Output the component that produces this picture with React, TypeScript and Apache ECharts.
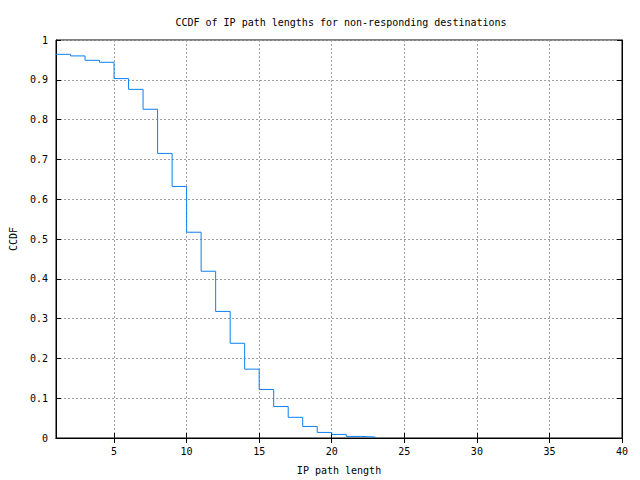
import React, { useEffect, useRef } from "react";
import * as echarts from "echarts";

const pathLengths = [1, 2, 3, 4, 5, 6, 7, 8, 9, 10, 11, 12, 13, 14, 15, 16, 17, 18, 19, 20, 21, 22, 23];
const ccdfValues = [0.964, 0.96, 0.949, 0.944, 0.903, 0.876, 0.826, 0.715, 0.632, 0.517, 0.419, 0.318, 0.238, 0.173, 0.122, 0.079, 0.052, 0.029, 0.014, 0.009, 0.004, 0.0025, 0.0005];
const xTickValues = [5, 10, 15, 20, 25, 30, 35, 40];

const FONT = "DejaVu Sans Mono";

export default function App() {
  const ref = useRef<HTMLDivElement>(null);
  useEffect(() => {
    if (!ref.current) return;
    const chart = echarts.init(ref.current, null, { renderer: "svg" });
    const grid = { color: "#a0a0a0", type: [2, 2] as number[], width: 1 };
    const yFmt = (v: number) => (v === 0 ? "0" : v === 1 ? "1" : v.toFixed(1));
    chart.setOption({
      animation: false,
      backgroundColor: "#fff",
      textStyle: { fontFamily: FONT },
      title: {
        text: "CCDF of IP path lengths for non-responding destinations",
        left: 336,
        textAlign: "center",
        top: 12,
        textStyle: { fontFamily: FONT, fontSize: 10, fontWeight: "normal", color: "#000" },
      },
      grid: { left: 51, right: 18, top: 40, bottom: 42, show: true, borderColor: "#000", borderWidth: 1 },
      xAxis: [
        {
          type: "value",
          min: 1,
          max: 40,
          name: "IP path length",
          nameLocation: "middle",
          nameGap: 27,
          nameTextStyle: { fontFamily: FONT, fontSize: 10, color: "#000" },
          axisLine: { show: true, lineStyle: { color: "#000" } },
          axisTick: { show: true, inside: true, length: 5, customValues: xTickValues, lineStyle: { color: "#000" } },
          axisLabel: { customValues: xTickValues, fontFamily: FONT, fontSize: 10, color: "#000", margin: 8 },
          splitLine: { show: true, lineStyle: grid },
        },
        {
          type: "value",
          position: "top",
          min: 1,
          max: 40,
          axisLine: { show: true, lineStyle: { color: "#000" } },
          axisTick: { show: true, inside: true, length: 5, customValues: xTickValues, lineStyle: { color: "#000" } },
          axisLabel: { show: false },
          splitLine: { show: false },
        },
      ],
      yAxis: [
        {
          type: "value",
          min: 0,
          max: 1,
          interval: 0.1,
          name: "CCDF",
          nameLocation: "middle",
          nameGap: 38,
          nameTextStyle: { fontFamily: FONT, fontSize: 10, color: "#000" },
          axisLine: { show: true, lineStyle: { color: "#000" } },
          axisTick: { show: true, inside: true, length: 5, lineStyle: { color: "#000" } },
          axisLabel: { formatter: yFmt, fontFamily: FONT, fontSize: 10, color: "#000", margin: 8 },
          splitLine: { show: true, lineStyle: grid },
        },
        {
          type: "value",
          position: "right",
          min: 0,
          max: 1,
          interval: 0.1,
          axisLine: { show: true, lineStyle: { color: "#000" } },
          axisTick: { show: true, inside: true, length: 5, lineStyle: { color: "#000" } },
          axisLabel: { show: false },
          splitLine: { show: false },
        },
      ],
      series: [
        {
          type: "line",
          step: "end",
          xAxisIndex: 0,
          yAxisIndex: 0,
          data: pathLengths.map((x, i) => [x, ccdfValues[i]]),
          showSymbol: false,
          lineStyle: { color: "#0a80f5", width: 1 },
          itemStyle: { color: "#0a80f5" },
          z: 5,
        },
      ],
    });
    return () => chart.dispose();
  }, []);
  return <div ref={ref} style={{ width: 640, height: 480, position: "absolute", left: 0, top: 0 }} />;
}
